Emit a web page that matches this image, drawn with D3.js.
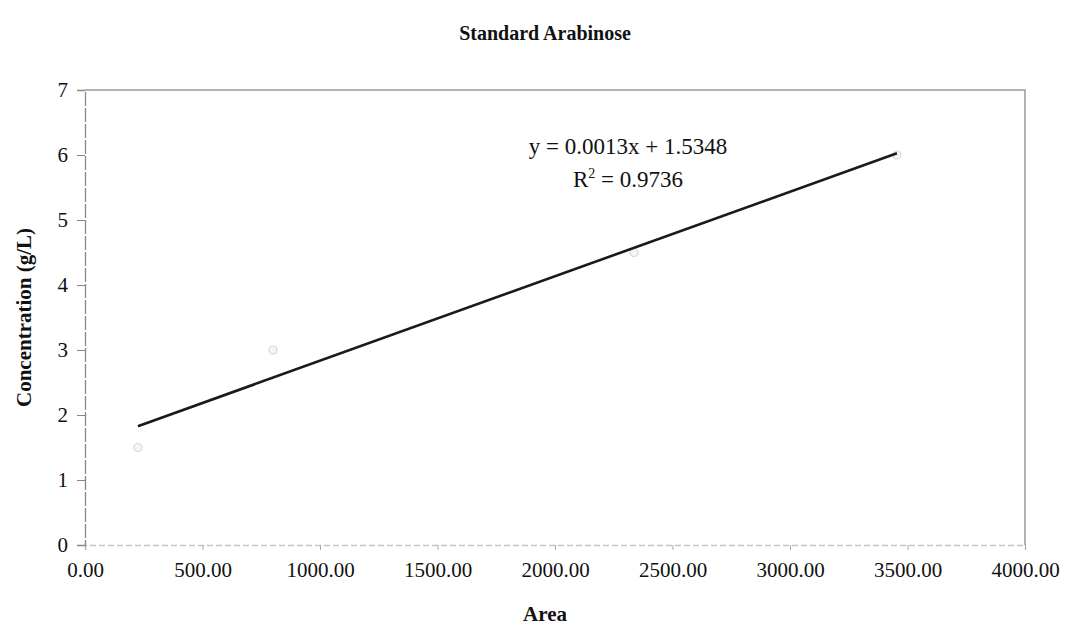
<!DOCTYPE html>
<html>
<head>
<meta charset="utf-8">
<script src="https://cdn.jsdelivr.net/npm/d3@7"></script>
<style>
  body { margin: 0; background: #fff; }
  text { font-family: "Liberation Serif", "Times New Roman", serif; fill: #111; }
</style>
</head>
<body>
<div id="vis"></div>
<script>
const width = 1068;
const height = 638;
const margin = { top: 90, right: 43, bottom: 93, left: 85 };

// standard points (area vs concentration)
const areaValues = [225, 800, 2336, 3455];
const concValues = [1.5, 3, 4.5, 6];
const xTicks = [0, 500, 1000, 1500, 2000, 2500, 3000, 3500, 4000];
const yTicks = [0, 1, 2, 3, 4, 5, 6, 7];
const slope = 0.0013;
const intercept = 1.5348;
const equationLines = ["y = 0.0013x + 1.5348", "R", " = 0.9736"];

const data = areaValues.map((a, i) => ({ area: a, conc: concValues[i] }));

const svg = d3.select("#vis").append("svg")
    .attr("width", width)
    .attr("height", height);

const x = d3.scaleLinear().domain([0, 4000]).range([margin.left, width - margin.right]);
const y = d3.scaleLinear().domain([0, 7]).range([height - margin.bottom, margin.top]);

// frame (top + right)
svg.append("path")
    .attr("d", `M${x(0)},${y(7)} H${x(4000)} V${y(0)}`)
    .attr("fill", "none")
    .attr("stroke", "#999")
    .attr("stroke-width", 1.5);

// axes
const xAxis = svg.append("g")
    .attr("transform", `translate(0,${y(0)})`)
    .call(d3.axisBottom(x).tickValues(xTicks).tickFormat(d3.format(".2f")).tickSize(5).tickPadding(12));

const yAxis = svg.append("g")
    .attr("transform", `translate(${x(0)},0)`)
    .call(d3.axisLeft(y).tickValues(yTicks).tickFormat(d3.format("d")).tickSize(8).tickPadding(9));

[xAxis, yAxis].forEach(g => {
    g.select(".domain").attr("stroke", "#888").attr("stroke-width", 1.3);
    g.selectAll(".tick line").attr("stroke", "#888");
    g.selectAll("text")
        .style("font-family", "'Liberation Serif', serif")
        .style("font-size", "21px")
        .attr("fill", "#111");
});
yAxis.select(".domain").attr("stroke-dasharray", "14,2");
xAxis.select(".domain").attr("stroke", "#c4c4c4").attr("stroke-dasharray", "6,3");
xAxis.selectAll(".tick line").attr("stroke", "#aaa");

// data points (faint markers)
svg.selectAll("circle.pt")
    .data(data)
    .enter().append("circle")
    .attr("class", "pt")
    .attr("cx", d => x(d.area))
    .attr("cy", d => y(d.conc))
    .attr("r", 4)
    .attr("fill", "#f6f6f6")
    .attr("stroke", "#d6d6d6")
    .attr("stroke-width", 1.2);

// linear trendline across data range
const xMin = d3.min(areaValues);
const xMax = d3.max(areaValues);
svg.append("line")
    .attr("x1", x(xMin))
    .attr("y1", y(slope * xMin + intercept))
    .attr("x2", x(xMax))
    .attr("y2", y(slope * xMax + intercept))
    .attr("stroke", "#1a1a1a")
    .attr("stroke-width", 2.6);

// equation
svg.append("text")
    .attr("x", 628)
    .attr("y", 154)
    .attr("text-anchor", "middle")
    .style("font-size", "23px")
    .text(equationLines[0]);

const r2 = svg.append("text")
    .attr("x", 628)
    .attr("y", 187)
    .attr("text-anchor", "middle")
    .style("font-size", "23px");
r2.append("tspan").text(equationLines[1]);
r2.append("tspan").attr("dy", -9).style("font-size", "14px").text("2");
r2.append("tspan").attr("dy", 9).text(equationLines[2]);

// title and axis labels
svg.append("text")
    .attr("x", 545)
    .attr("y", 40)
    .attr("text-anchor", "middle")
    .style("font-size", "20px")
    .style("font-weight", "bold")
    .text("Standard Arabinose");

svg.append("text")
    .attr("x", 545)
    .attr("y", 621)
    .attr("text-anchor", "middle")
    .style("font-size", "21px")
    .style("font-weight", "bold")
    .text("Area");

svg.append("text")
    .attr("transform", `translate(31,${(y(0) + y(7)) / 2}) rotate(-90)`)
    .attr("text-anchor", "middle")
    .style("font-size", "21px")
    .style("font-weight", "bold")
    .text("Concentration (g/L)");
</script>
</body>
</html>
